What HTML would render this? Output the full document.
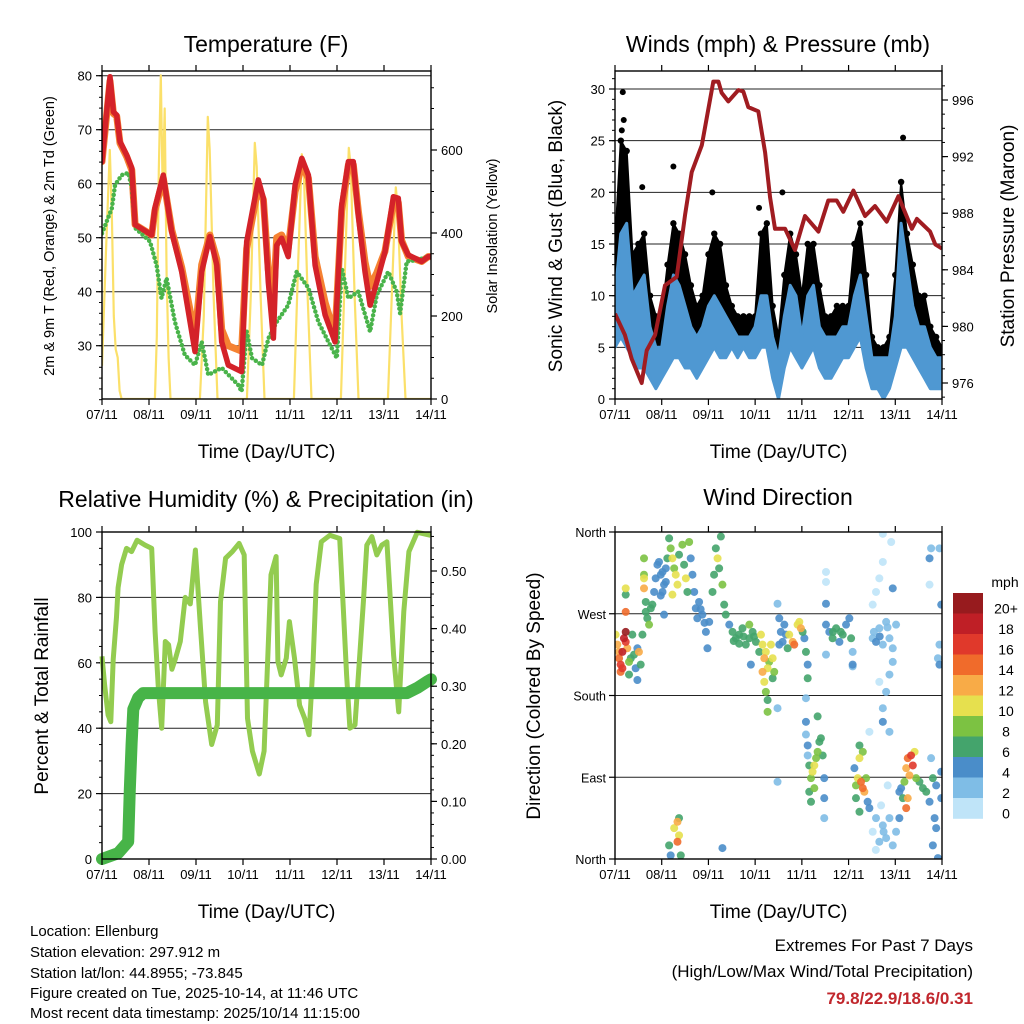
<!DOCTYPE html>
<html><head><meta charset="utf-8">
<style>
html,body{margin:0;padding:0;background:#fff;}
svg{display:block;font-family:"Liberation Sans",Arial,sans-serif;}
</style></head>
<body>
<svg id="chart" width="1024" height="1024" viewBox="0 0 1024 1024" xmlns="http://www.w3.org/2000/svg">
<rect width="1024" height="1024" fill="#fff"/>
<g id="p1"></g>
<g id="p2"></g>
<g id="p3"></g>
<g id="p4"></g>
<g font-size="15" fill="#000">
<text x="30" y="936">Location: Ellenburg</text>
<text x="30" y="957">Station elevation: 297.912 m</text>
<text x="30" y="978">Station lat/lon: 44.8955; -73.845</text>
<text x="30" y="998">Figure created on Tue, 2025-10-14, at 11:46 UTC</text>
<text x="30" y="1018">Most recent data timestamp: 2025/10/14 11:15:00</text>
</g>
<g text-anchor="end">
<text x="973" y="951" font-size="17">Extremes For Past 7 Days</text>
<text x="973" y="977" font-size="17">(High/Low/Max Wind/Total Precipitation)</text>
<text x="973" y="1004" font-size="17" font-weight="bold" fill="#c1272d">79.8/22.9/18.6/0.31</text>
</g>
</svg>
<script>
// ---------------- DATA ----------------
const dayLabels = ["07/11","08/11","09/11","10/11","11/11","12/11","13/11","14/11"];
const tempHours = [0,4.1,5.8,7.5,9.2,12.6,15.2,16.9,25.4,27,31.3,35.6,40.7,45.8,47.5,50.9,55.1,58.6,61.1,64.5,71.3,73.9,79.8,82.4,84.9,87.5,89.2,91.7,95.1,98.6,102,105.4,108.8,113.9,119,122.4,125.8,128.3,130.9,134.3,136.9,140.3,144.5,148.8,151.3,153,156.4,163.2,166.6,168];
const temp2m = [64.1,79.8,73.3,72.7,67.8,65.3,62.9,52.4,50.5,55.5,61.6,51.1,43.7,32.6,28.9,43.7,50.2,44.9,30.7,26.4,25.2,49.3,60.7,57.3,41.8,31.4,48.6,49.9,46.5,59.8,64.7,61.6,44.9,35.7,30.7,56.1,64.1,64.1,54.2,43.7,37.5,41.8,47.4,57.6,57.3,49.3,46.8,45.6,46.5,46.5];
const temp9m = [64.1,79.0,73.0,72.5,67.5,65.0,62.5,52.4,50.5,55.0,61.0,51.5,44.5,35.0,31.5,45.0,50.5,46.0,33.0,30.0,29.0,48.0,59.5,57.0,44.0,38.5,50.0,50.5,48.0,58.5,63.5,61.0,46.5,38.0,32.0,55.0,63.5,63.5,55.0,45.5,41.0,43.5,47.5,56.5,56.5,49.5,46.5,45.6,46.5,46.5];
const dewHours = [0,5,6.7,10.1,13.5,15.2,16.9,24.5,27.9,30.4,33,37.2,42.3,47.5,50.9,54.3,61.1,69.6,71.3,73.9,76.6,81.7,85,89.2,95.1,99.4,105.4,110.5,115.6,119.9,122.4,125.8,130.9,136.9,140.3,146.2,150.5,152.2,155.6,161.5,166.6,168];
const dewPoint = [50.8,55.4,59.8,61.6,62,59.2,51.8,49.3,44.9,38.8,42.5,34.4,28.3,26.4,30.7,24.6,25.9,22.7,21.5,32.6,27.7,26.4,31.4,34.4,37.5,43.7,40.7,34.4,30.7,27.7,44.4,38.8,40,32.6,39.4,43.7,40,36,45.6,45.9,46.5,46.5];
const solarHours = [0,2,4,5,6,7,8,9,10,27,28,29,30,31,32,33,34,35,50,52,54,55,57,59,74,76,78,79,81,83,98,100,102,103,105,107,122,124,126,127,129,131,146,148,150,151,153,155,168];
const solarValues = [80,350,600,450,200,120,100,20,0,0,150,550,780,500,700,300,100,0,0,200,680,600,250,0,0,250,617,560,250,0,0,300,590,560,250,0,0,300,605,560,250,0,0,250,510,460,200,0,0];
const tempTicks = [30,40,50,60,70,80];
const solarTicks = [0,200,400,600];

const windHours = [0,3,6,9,12,15,18,21,24,27,30,33,36,39,42,45,48,51,54,57,60,63,66,69,72,75,78,81,84,87,90,93,96,99,102,105,108,111,114,117,120,123,126,129,132,135,138,141,144,147,150,153,156,159,162,165,168];
const windLow = [5,6,5,4,3,3,2,1,2,3,4,4,3,3,2,3,4,5,4,4,5,4,5,4,4,5,5,2,0,3,5,4,3,4,5,3,2,2,3,4,4,5,6,3,1,1,0,1,3,5,5,4,3,2,1,1,1];
const windHigh = [10,16,17,10,11,12,7,5,5,9,12,11,9,7,6,7,9,10,9,8,7,6,6,6,7,10,10,6,4,8,11,10,6,10,11,7,6,6,6,7,7,10,12,8,4,4,4,4,8,17,13,9,7,7,5,4,4];
const gustHigh = [15,25,24,14,15,16,10,8,8,13,17,16,14,11,9,10,14,16,15,11,9,8,8,8,8,16,17,9,6,12,16,14,10,15,15,11,8,8,9,9,9,15,17,12,6,5,5,6,12,21,16,13,10,10,7,6,5];
const gustOutlierHours = [4,4.5,3.5,14,30,50,74,86,148,147,5];
const gustOutlierValues = [29.7,27,26,20.5,22.5,20,18.5,20,25.3,21,23];
const presHours = [0,5.1,8.6,13.7,16.3,20.6,25.7,31.7,36,39.4,44.6,50.5,53.1,54.8,58.2,63.4,65.9,68.5,73.6,77.1,79.7,82.2,87.4,92.5,97.6,104.5,109.6,113.9,117.3,122.5,128.5,133.6,139.6,145.6,152.5,155.1,161.9,164.5,168];
const presValues = [980.9,979.4,977.7,976,978.3,979.4,982.9,983.5,987.9,990.9,992.8,997.3,997.3,996.5,995.9,996.7,996.6,995.5,995.2,992.3,989.1,986.9,986.9,985.4,987.8,986.7,988.9,988.9,988.1,989.6,987.8,988.5,987.4,989.2,986.9,987.6,986.7,985.8,985.5];
const windTicks = [0,5,10,15,20,25,30];
const presTicks = [976,980,984,988,992,996];

const rhHours = [0,1.4,3.1,4.5,5.7,7.4,8.2,10,12.5,15.1,17.9,22,25.4,27.1,28.8,30.5,32.3,34,35.7,37.4,40,42.5,45.1,47.7,50.3,52.9,56,58.9,60.5,63.1,66.6,70,72.6,74.3,76.8,80.3,82.8,84.6,86.3,88.9,89.8,91.5,94.1,95.7,98.3,100.9,103.5,105.7,107.7,109.4,112,116.3,121.4,123.2,124.9,126.6,129.2,133.5,135.2,137.8,140.3,142.9,145.5,148.9,151.5,154.1,156.7,161,167.8];
const rhValues = [62,53,44,42,61,74,83,90,95,94,97.5,96,95,69.5,52,40,66.5,65.5,58,61,66.5,80,78,94.5,70.6,48,35,41,78.7,92,94,96.5,93,43,33,26,33,61,86.9,92.5,60.4,56.3,61.4,72.6,61.4,47,43,38,59,84,97,99,98,76.7,56.3,40,41,78.7,96,98.6,93,96,97,62.4,45,75.7,94,99.9,99];
const precipHours = [0,8.2,13.4,14.2,15.1,16,18.5,21,155.7,161,166,168];
const precipValues = [0,0.01,0.03,0.12,0.2,0.26,0.28,0.288,0.288,0.297,0.308,0.312];
const rhTicks = [0,20,40,60,80,100];
const precipTicks = [0,0.1,0.2,0.3,0.4,0.5];

const dirHours = [0.3,1.2,2.1,2.9,3.8,4.6,5.5,2.9,3.8,5.5,2.1,6.3,7.2,8.1,8.9,9.8,10.6,11.5,12.3,13.2,11.5,7.2,14.1,5.5,5.5,5.5,
14.9,14.9,14.9,14.9,15.8,15.8,16.6,17.5,18.4,19.2,20.1,20.9,21.8,22.6,23.5,24.4,25.2,26.1,26.9,27.8,28.6,29.5,30.4,31.2,32.1,29.5,32.9,34.6,35.5,36.4,37.2,38.1,38.9,39.8,40.7,41.5,43.2,44.9,46.7,47.5,48.4,50.1,50.9,51.8,52.7,53.5,54.4,55.2,56.1,56.9,58.7,24.4,25.2,26.1,23.5,42.3,44,46,
60.4,62.1,63.8,65.5,67.2,69,70.7,72.4,63.8,69,69.8,74.1,61,66,71.5,
75,75.8,76.7,77.5,78.4,79.2,80.1,81,81.8,75.8,76.7,77.5,78.4,78.4,81,83.5,83.5,
84.4,85.2,86.1,87,87.8,84.4,88.7,
89.5,91.3,92.1,93.8,94.7,95.5,96.4,97.3,98.1,
99,99,98.1,98.1,104.1,
98.1,99,99,99.8,100.7,101.5,102.4,103.3,104.1,105,105.8,106.7,99.8,100.7,102.4,107.5,107.5,107.5,83.5,
108.4,110.1,111.8,113.6,115.3,117,118.7,120.4,121.3,122.1,108.4,122.1,112,116,
123,123.8,124.7,125.6,126.4,127.3,128.1,129,127.3,125.6,123.8,129.8,130.7,125.6,
132.4,134.1,135.8,137.6,139.3,141,142.7,144.4,142.7,141,139.3,137.6,135.8,134.1,137.6,142.7,141.9,135.8,137.6,132.4,141,137.6,130.7,132.4,134.1,135.8,137.6,139.3,141,142.7,144.4,146.1,136.7,140.1,108.4,108.4,108.4,122.1,133,136,140,138,134,
147,148.7,149.6,150.4,151.3,152.1,153,153.9,154.7,150.4,149.6,147.9,146.1,
156.4,158.2,159.9,161.6,163.3,165,164.2,165,163.3,165.9,167.6,162.4,167.6,161.6,166.7,167.6,166.7,165.9,166.7,161.6,162.4,
27.8,28.6,30.4,32.1,32.1,32.9,33.8,32.9,55.2];
const dirDegrees = [247,236,221,214,228,243,239,206,210,250,228,232,217,221,247,225,210,232,228,214,197,203,247,272,298,291,
331,313,309,298,283,272,265,258,276,280,294,309,324,327,313,294,269,305,331,353,342,331,320,313,302,291,335,346,324,309,294,349,331,313,294,276,283,269,250,232,261,294,313,342,331,320,355,302,280,269,258,316,302,320,290,265,275,260,
250,243,247,254,236,243,250,239,237,258,214,228,240,245,245,
247,236,221,228,210,217,236,221,206,206,195,184,175,162,199,166,281,
265,250,239,258,247,236,232,
247,239,236,258,261,254,250,243,228,
214,199,177,151,157,
137,125,114,103,89,96,103,111,118,129,133,114,74,63,78,89,67,45,85,
258,250,243,254,239,247,258,265,243,214,225,228,250,250,
100,81,89,111,85,78,74,89,118,125,67,63,56,52,
243,239,254,236,261,243,232,258,217,203,184,166,195,294,327,298,349,309,358,280,140,151,140,30,45,19,37,23,45,15,30,45,59,81,316,281,305,212,250,245,255,30,10,
78,85,100,111,92,114,103,118,89,67,56,67,74,
85,78,74,63,89,81,45,34,15,1,67,111,96,331,342,280,236,221,214,302,342,
15,4,34,41,19,26,4,45,12];
const dirSpeeds = [10,12,14,16,18,19,17,14,16,20,12,12,8,6,6,6,4,4,12,6,4,6,6,14,10,6,
8,8,10,12,6,6,6,8,6,6,4,4,4,4,4,4,4,4,6,6,8,10,8,10,10,10,6,8,6,10,6,8,4,4,4,4,4,4,4,4,4,6,6,6,10,6,6,8,6,6,4,4,4,4,4,4,4,4,
6,6,6,6,6,6,6,6,6,8,4,6,6,6,6,
10,10,12,10,10,8,10,10,8,12,10,8,6,8,6,2,2,
4,4,4,4,4,4,6,
10,12,14,10,10,12,6,4,6,
4,6,2,4,6,
2,4,2,6,8,10,10,8,8,6,6,6,6,6,8,4,4,2,2,
4,4,6,6,4,6,4,4,6,4,2,2,6,6,
4,8,10,10,14,14,12,8,8,6,6,4,4,6,
2,4,2,2,2,2,2,2,2,2,2,2,0,0,0,4,0,0,0,0,2,4,0,0,2,2,2,2,2,2,2,4,0,0,0,4,0,2,2,4,2,2,0,
4,8,12,14,12,16,16,10,8,12,14,6,4,
6,6,6,4,6,4,4,4,4,4,4,2,4,4,2,4,2,2,4,0,2,
6,4,10,12,14,10,6,6,4];
const dirTickLabels = ["North","East","South","West","North"];
const dirTickValues = [0,90,180,270,360];
const speedBins = ["0","2","4","6","8","10","12","14","16","18","20+"];
const speedColors = ["#bfe4f8","#7fbde6","#4a8dc9","#44a46c","#7cc242","#e6e04e","#f8ab47","#f06b2b","#e0392b","#bf1f26","#971b1e"];

// ---------------- HELPERS ----------------
const NS = "http://www.w3.org/2000/svg";
function mk(parent, tag, attrs, text) {
  const e = document.createElementNS(NS, tag);
  for (const k in attrs) e.setAttribute(k, attrs[k]);
  if (text !== undefined) e.textContent = text;
  parent.appendChild(e);
  return e;
}
function linScale(d0, d1, r0, r1) { return v => r0 + (v - d0) / (d1 - d0) * (r1 - r0); }
function pathD(xs, ys, sx, sy) {
  return xs.map((x, i) => (i ? "L" : "M") + sx(x).toFixed(1) + "," + sy(ys[i]).toFixed(1)).join("");
}
function frame(g, x0, y0, x1, y1, sx) {
  for (let d = 0; d <= 7; d++) {
    const x = sx(d * 24);
    const t1 = mk(g, "line", {x1: x, y1: y1, x2: x, y2: y1 + 6, stroke: "#000", "stroke-width": 1.2});
    
    
    const t2 = mk(g, "line", {x1: x, y1: y0, x2: x, y2: y0 - 6, stroke: "#000", "stroke-width": 1.2});
    
    
    const lab = mk(g, "text", {x: x, y: y1 + 20, "font-size": 13, "text-anchor": "middle"}, dayLabels[d]);
    
    
  }
  const xt = mk(g, "text", {x: (x0 + x1) / 2, y: y1 + 59, "font-size": 19, "text-anchor": "middle"}, "Time (Day/UTC)");
  
  
}
function border(g, x0, y0, x1, y1) {
  const r = mk(g, "rect", {x: x0, y: y0, width: x1 - x0, height: y1 - y0, fill: "none", stroke: "#000", "stroke-width": 1.4});
  
  
}
function leftTicks(g, x0, x1, ticks, sy, fmt, minorStep, lo, hi, grid) {
  ticks.forEach(v => {
    const y = sy(v);
    if (grid) {
      const gl = mk(g, "line", {x1: x0, y1: y, x2: x1, y2: y, stroke: "#222", "stroke-width": 1});
      
      
    }
    const t = mk(g, "line", {x1: x0, y1: y, x2: x0 - 6, y2: y, stroke: "#000", "stroke-width": 1.2});
    
    
    const l = mk(g, "text", {x: x0 - 10, y: y + 5, "font-size": 13, "text-anchor": "end"}, fmt(v));
    
    
  });
  if (minorStep) for (let v = lo; v <= hi + 1e-9; v += minorStep) {
    const y = sy(v);
    const m = mk(g, "line", {x1: x0, y1: y, x2: x0 - 3, y2: y, stroke: "#000", "stroke-width": 1});
    
    
  }
}
function rightTicks(g, x1, ticks, sy, fmt, minorStep, lo, hi) {
  ticks.forEach(v => {
    const y = sy(v);
    const t = mk(g, "line", {x1: x1, y1: y, x2: x1 + 6, y2: y, stroke: "#000", "stroke-width": 1.2});
    
    
    const l = mk(g, "text", {x: x1 + 10, y: y + 5, "font-size": 13}, fmt(v));
    
    
  });
  if (minorStep) for (let v = lo; v <= hi + 1e-9; v += minorStep) {
    const y = sy(v);
    const m = mk(g, "line", {x1: x1, y1: y, x2: x1 + 3, y2: y, stroke: "#000", "stroke-width": 1});
    
    
  }
}
function rotText(g, x, y, txt, size, name) {
  const t = mk(g, "text", {x: 0, y: 0, "font-size": size, "text-anchor": "middle", transform: `translate(${x},${y}) rotate(-90)`}, txt);
  
  
}
function title(g, x, y, txt, name) {
  const t = mk(g, "text", {x: x, y: y, "font-size": 23, "text-anchor": "middle"}, txt);
  
  
}

// ---------------- PANEL 1 ----------------
(function () {
  const g = document.getElementById("p1");
  const x0 = 102, x1 = 431, y0 = 71, y1 = 399;
  const sx = linScale(0, 168, x0, x1);
  const sy = linScale(20, 80, 399.7, 75.7);
  const ss = linScale(0, 600, 399, 150);
  title(g, 266, 52, "Temperature (F)", "temperature-title");
  const clip = mk(g, "clipPath", {id: "c1"});
  mk(clip, "rect", {x: x0, y: y0, width: x1 - x0, height: y1 - y0});
  leftTicks(g, x0, x1, tempTicks, sy, v => String(v), 2, 20, 80, true);
  rightTicks(g, x1, solarTicks, ss, v => String(v), 50, 0, 750);
  const pg = mk(g, "g", {"clip-path": "url(#c1)"});
  const sol = mk(pg, "path", {d: pathD(solarHours, solarValues, sx, ss), fill: "none", stroke: "#fbe06a", "stroke-width": 2.2, "stroke-linejoin": "round"});
  
  
  const o = mk(pg, "path", {d: pathD(tempHours, temp9m, sx, sy), fill: "none", stroke: "#f58232", "stroke-width": 7, "stroke-linejoin": "round", "stroke-linecap": "round"});
  
  
  const dp = mk(pg, "path", {d: pathD(dewHours, dewPoint, sx, sy), fill: "none", stroke: "#49b34a", "stroke-width": 4.5, "stroke-dasharray": "0 4.5", "stroke-linecap": "round"});
  
  
  const r = mk(pg, "path", {d: pathD(tempHours, temp2m, sx, sy), fill: "none", stroke: "#d42229", "stroke-width": 5.5, "stroke-linejoin": "round", "stroke-linecap": "round"});
  
  
  border(g, x0, y0, x1, y1);
  frame(g, x0, y0, x1, y1, sx);
  rotText(g, 54, 236, "2m & 9m T (Red, Orange) & 2m Td (Green)", 14.5, "temperature-y-axis-title");
  rotText(g, 497, 236, "Solar Insolation (Yellow)", 14.5, "solar-y-axis-title");
})();

// ---------------- PANEL 2 ----------------
(function () {
  const g = document.getElementById("p2");
  const x0 = 615, x1 = 942, y0 = 71, y1 = 399;
  const sx = linScale(0, 168, x0, x1);
  const sy = linScale(0, 30, 399, 89);
  const sp = linScale(976, 996, 383, 100);
  title(g, 778, 52, "Winds (mph) & Pressure (mb)", "winds-title");
  const clip = mk(g, "clipPath", {id: "c2"});
  mk(clip, "rect", {x: x0, y: y0, width: x1 - x0, height: y1 - y0});
  leftTicks(g, x0, x1, windTicks, sy, v => String(v), 1, 0, 31, true);
  rightTicks(g, x1, presTicks, sp, v => String(v), 1, 975, 997);
  const pg = mk(g, "g", {"clip-path": "url(#c2)"});
  let top = windHours.map((h, i) => sx(h).toFixed(1) + "," + sy(gustHigh[i]).toFixed(1));
  let bot = windHours.map((h, i) => sx(h).toFixed(1) + "," + sy(windLow[i] + 1).toFixed(1)).reverse();
  const gb = mk(pg, "polygon", {points: top.concat(bot).join(" "), fill: "#000", stroke: "#000", "stroke-width": 2, "stroke-linejoin": "round"});
  
  
  windHours.forEach((h, i) => {
    const c = mk(pg, "circle", {cx: sx(h), cy: sy(gustHigh[i]), r: 3.2, fill: "#000"});
    
    
  });
  gustOutlierHours.forEach((h, i) => {
    const c = mk(pg, "circle", {cx: sx(h), cy: sy(gustOutlierValues[i]), r: 3, fill: "#000"});
    
    
  });
  top = windHours.map((h, i) => sx(h).toFixed(1) + "," + sy(windHigh[i]).toFixed(1));
  bot = windHours.map((h, i) => sx(h).toFixed(1) + "," + sy(windLow[i]).toFixed(1)).reverse();
  const wb = mk(pg, "polygon", {points: top.concat(bot).join(" "), fill: "#4f98d2", stroke: "#4f98d2", "stroke-width": 3, "stroke-linejoin": "round"});
  
  
  const pl = mk(pg, "path", {d: pathD(presHours, presValues, sx, sp), fill: "none", stroke: "#a01c21", "stroke-width": 4, "stroke-linejoin": "round"});
  
  
  border(g, x0, y0, x1, y1);
  frame(g, x0, y0, x1, y1, sx);
  rotText(g, 562, 236, "Sonic Wind & Gust (Blue, Black)", 19, "wind-y-axis-title");
  rotText(g, 1014, 236, "Station Pressure (Maroon)", 19, "pressure-y-axis-title");
})();

// ---------------- PANEL 3 ----------------
(function () {
  const g = document.getElementById("p3");
  const x0 = 102, x1 = 431, y0 = 532, y1 = 859;
  const sx = linScale(0, 168, x0, x1);
  const sy = linScale(0, 100, 859, 532);
  const sp = linScale(0, 0.5, 859, 571);
  title(g, 266, 507, "Relative Humidity (%) & Precipitation (in)", "humidity-title");
  const clip = mk(g, "clipPath", {id: "c3"});
  mk(clip, "rect", {x: x0 - 8, y: y0 - 8, width: x1 - x0 + 16, height: y1 - y0 + 16});
  leftTicks(g, x0, x1, rhTicks, sy, v => String(v), 5, 0, 100, true);
  rightTicks(g, x1, precipTicks, sp, v => v.toFixed(2), 0.02, 0, 0.56);
  const pg = mk(g, "g", {"clip-path": "url(#c3)"});
  const rh = mk(pg, "path", {d: pathD(rhHours, rhValues, sx, sy), fill: "none", stroke: "#93cc50", "stroke-width": 5, "stroke-linejoin": "round"});
  
  
  const pr = mk(pg, "path", {d: pathD(precipHours, precipValues, sx, sp), fill: "none", stroke: "#47b448", "stroke-width": 12, "stroke-linejoin": "round", "stroke-linecap": "round"});
  
  
  border(g, x0, y0, x1, y1);
  frame(g, x0, y0, x1, y1, sx);
  rotText(g, 48, 696, "Percent & Total Rainfall", 19, "humidity-y-axis-title");
})();

// ---------------- PANEL 4 ----------------
(function () {
  const g = document.getElementById("p4");
  const x0 = 615, x1 = 942, y0 = 532, y1 = 859;
  const sx = linScale(0, 168, x0, x1);
  const sy = linScale(0, 360, 859, 532);
  title(g, 778, 505, "Wind Direction", "wind-direction-title");
  dirTickValues.forEach((v, i) => {
    const y = sy(v);
    const gl = mk(g, "line", {x1: x0, y1: y, x2: x1, y2: y, stroke: "#222", "stroke-width": 1});
    
    
    const t = mk(g, "line", {x1: x0, y1: y, x2: x0 - 6, y2: y, stroke: "#000", "stroke-width": 1.2});
    
    
    const l = mk(g, "text", {x: x0 - 9, y: y + 5, "font-size": 12.5, "text-anchor": "end"}, dirTickLabels[i]);
    
    
  });
  const clip = mk(g, "clipPath", {id: "c4"});
  mk(clip, "rect", {x: x0, y: y0, width: x1 - x0, height: y1 - y0});
  const pg = mk(g, "g", {"clip-path": "url(#c4)"});
  const order = dirHours.map((h, i) => i).sort((a, b) => dirSpeeds[a] - dirSpeeds[b]);
  order.forEach(i => {
    const bin = Math.min(10, Math.floor(dirSpeeds[i] / 2));
    const c = mk(pg, "circle", {cx: sx(dirHours[i]), cy: sy(dirDegrees[i]), r: 4, fill: speedColors[bin], "fill-opacity": 0.9});
    
    
  });
  border(g, x0, y0, x1, y1);
  frame(g, x0, y0, x1, y1, sx);
  rotText(g, 540, 696, "Direction (Colored By Speed)", 19, "direction-y-axis-title");
  const cb = mk(g, "g", {});
  
  
  const lt = mk(cb, "text", {x: 1005, y: 587, "font-size": 14, "text-anchor": "middle"}, "mph");
  
  
  const bh = 20.5, by0 = 593;
  speedBins.forEach((lab, k) => {
    const idx = speedBins.length - 1 - k;
    const y = by0 + k * bh;
    const r = mk(cb, "rect", {x: 953, y: y, width: 30, height: bh + 0.3, fill: speedColors[idx]});
    
    
    const t = mk(cb, "text", {x: 1006, y: y + bh / 2 + 10, "font-size": 14, "text-anchor": "middle"}, speedBins[idx]);
    
    
  });
})();
</script>
</body></html>
